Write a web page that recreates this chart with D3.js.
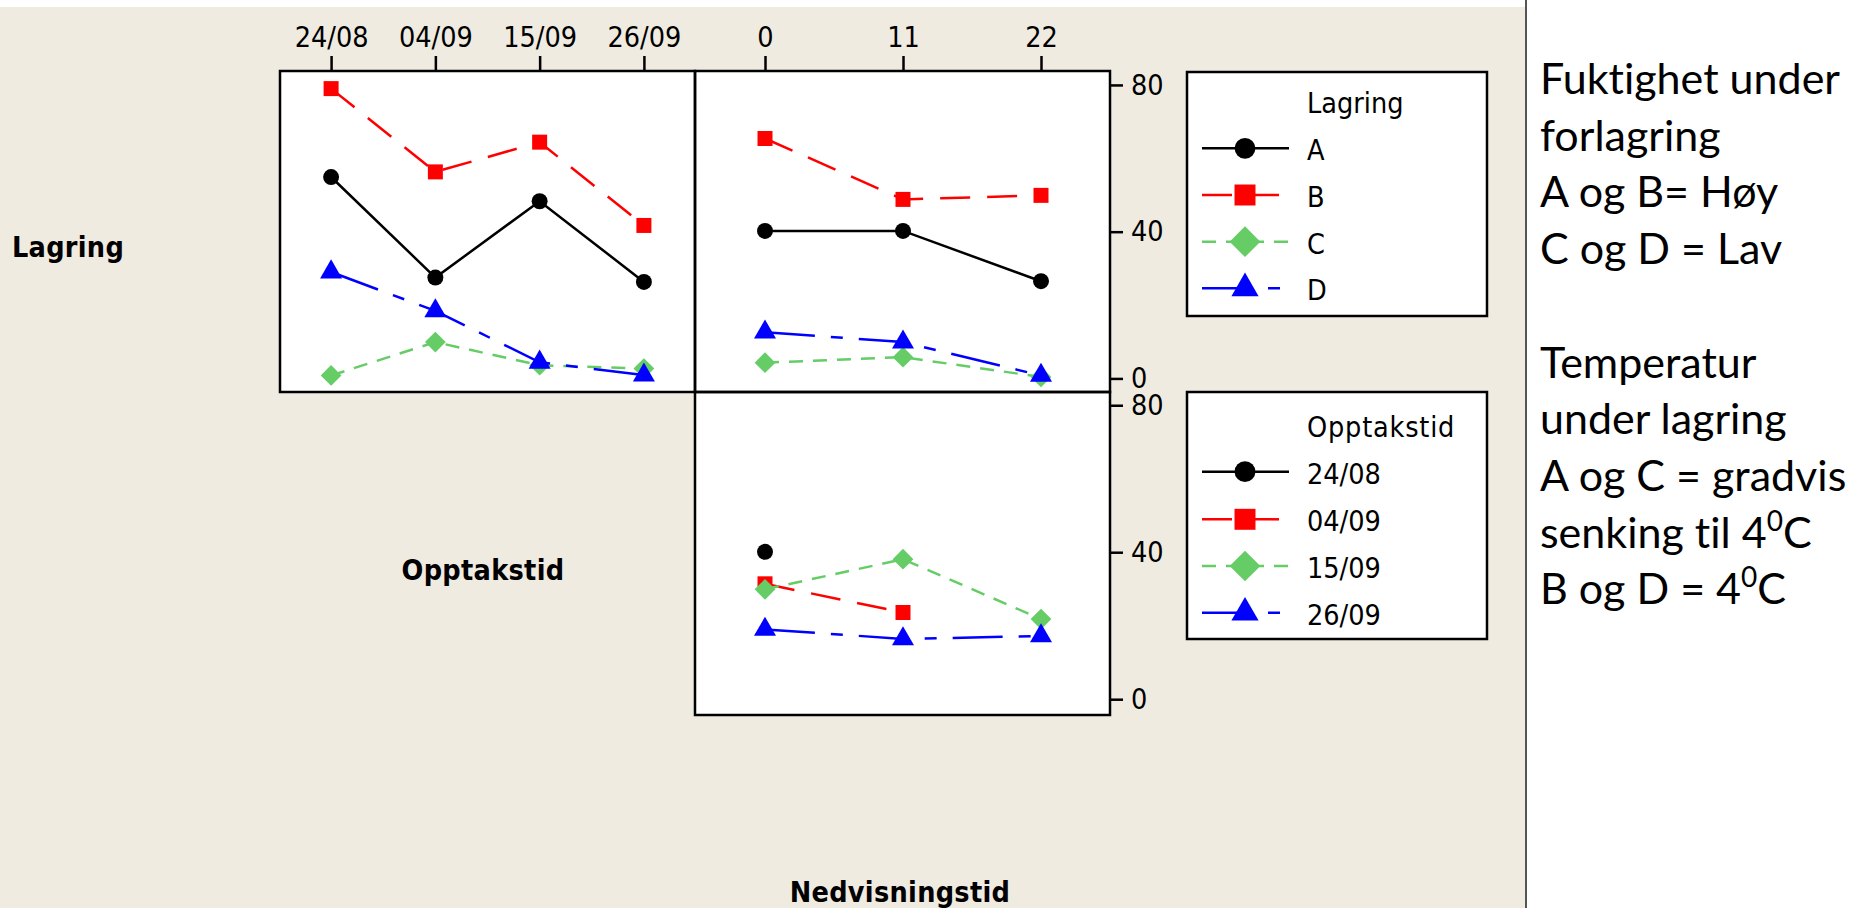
<!DOCTYPE html>
<html><head><meta charset="utf-8">
<script src="https://cdn.jsdelivr.net/npm/d3@7"></script>
<style>html,body{margin:0;padding:0;background:#fff;} svg{display:block} text{font-variant-ligatures:none;}</style>
</head><body>
<svg id="c" width="1864" height="908"></svg>
<script>
// ---------- data ----------
const dates = ["24/08", "04/09", "15/09", "26/09"];      // Opptakstid
const storage = ["A", "B", "C", "D"];                     // Lagring
const displayDays = [0, 11, 22];                          // Nedvisningstid
const yTicks = [0, 40, 80];

// Panel 1: Lagring (series) vs Opptakstid (x)
const lagOpp_A = [54.9, 27.5, 48.3, 26.3];
const lagOpp_B = [79.0, 56.3, 64.4, 41.7];
const lagOpp_C = [0.8, 9.9, 3.6, 2.7];
const lagOpp_D = [29.0, 18.4, 4.4, 0.9];

// Panel 2: Lagring (series) vs Nedvisningstid (x)
const lagNed_A = [40.2, 40.2, 26.5];
const lagNed_B = [65.4, 48.8, 49.9];
const lagNed_C = [4.3, 5.8, 0.4];
const lagNed_D = [12.6, 9.9, 0.8];

// Panel 3: Opptakstid (series) vs Nedvisningstid (x)
const oppNed_2408 = [40.1, null, null];
const oppNed_0409 = [31.4, 23.6, null];
const oppNed_1509 = [29.9, 38.1, 21.8];
const oppNed_2609 = [19.0, 16.4, 17.2];

const noteLines = [
  ["Fuktighet under"], ["forlagring"], ["A og B= Høy"], ["C og D = Lav"], [""],
  ["Temperatur"], ["under lagring"], ["A og C = gradvis"],
  ["senking til 4", "0", "C"], ["B og D = 4", "0", "C"]
];

// ---------- styles ----------
const styles = [
  {color: "#000000", dash: null,            sym: d3.symbolCircle,   size: 200, lsize: 340, rot: 0},
  {color: "#FF0000", dash: "30,17",         sym: d3.symbolSquare,   size: 225, lsize: 440, rot: 0},
  {color: "#66CC66", dash: "14,10",         sym: d3.symbolSquare,   size: 215, lsize: 470, rot: 45},
  {color: "#0000FF", dash: "50,16,12,16",   sym: d3.symbolTriangle, size: 210, lsize: 320, rot: 0}
];

const FONT = "'DejaVu Sans Condensed','DejaVu Sans',sans-serif";
const FS = 28.5;
const svg = d3.select("#c");

// background
svg.append("rect").attr("x", 0).attr("y", 7).attr("width", 1526).attr("height", 901).attr("fill", "#EFEBE1");
svg.append("line").attr("x1", 1526).attr("x2", 1526).attr("y1", 0).attr("y2", 908)
  .attr("stroke", "#555").attr("stroke-width", 2);

// panels
const P1 = {x0: 280, x1: 695, y0: 71, y1: 392};
const P2 = {x0: 695, x1: 1110, y0: 71, y1: 392};
const P3 = {x0: 695, x1: 1110, y0: 392, y1: 715};

const xDate = d3.scalePoint().domain(dates).range([P1.x0, P1.x1]).padding(0.49);
const xDay = d3.scaleLinear().domain([-5.58, 27.5]).range([P2.x0, P2.x1]);
const yTop = d3.scaleLinear().domain([-3.7, 83.8]).range([P1.y1, P1.y0]);
const yBot = d3.scaleLinear().domain([-4.3, 83.6]).range([P3.y1, P3.y0]);

function panelBg(p) {
  svg.append("rect").attr("x", p.x0).attr("y", p.y0).attr("width", p.x1 - p.x0).attr("height", p.y1 - p.y0)
    .attr("fill", "#fff");
}
function panelBorder(p) {
  svg.append("rect").attr("x", p.x0).attr("y", p.y0).attr("width", p.x1 - p.x0).attr("height", p.y1 - p.y0)
    .attr("fill", "none").attr("stroke", "#000").attr("stroke-width", 2.5);
}
[P1, P2, P3].forEach(panelBg);

function drawSeries(vals, xs, xScale, yScale, st) {
  const pts = vals.map((v, i) => ({x: xs[i], v})).filter(d => d.v !== null);
  const line = d3.line().x(d => xScale(d.x)).y(d => yScale(d.v));
  const g = svg.append("g");
  if (pts.length > 1) {
    g.append("path").attr("d", line(pts)).attr("fill", "none").attr("stroke", st.color)
      .attr("stroke-width", 2.5).attr("stroke-dasharray", st.dash);
  }
  g.selectAll("path.m").data(pts).join("path").attr("class", "m")
    .attr("d", d3.symbol().type(st.sym).size(st.size))
    .attr("transform", d => `translate(${xScale(d.x)},${yScale(d.v)}) rotate(${st.rot})`)
    .attr("fill", st.color);
}

// Panel 1
[lagOpp_A, lagOpp_B, lagOpp_C, lagOpp_D].forEach((s, i) => drawSeries(s, dates, xDate, yTop, styles[i]));
// Panel 2
[lagNed_A, lagNed_B, lagNed_C, lagNed_D].forEach((s, i) => drawSeries(s, displayDays, xDay, yTop, styles[i]));
// Panel 3
[oppNed_2408, oppNed_0409, oppNed_1509, oppNed_2609].forEach((s, i) => drawSeries(s, displayDays, xDay, yBot, styles[i]));

[P1, P2, P3].forEach(panelBorder);

// axes
function styleAxis(g) {
  g.select(".domain").remove();
  g.selectAll(".tick line").attr("stroke", "#000").attr("stroke-width", 2.5);
  g.selectAll(".tick text").attr("font-family", FONT).attr("font-size", FS).attr("fill", "#000");
}
svg.append("g").attr("transform", `translate(0,${P1.y0})`)
  .call(d3.axisTop(xDate).tickSize(15).tickPadding(9).tickSizeOuter(0)).call(styleAxis);
svg.append("g").attr("transform", `translate(0,${P2.y0})`)
  .call(d3.axisTop(xDay).tickValues(displayDays).tickSize(15).tickPadding(9).tickSizeOuter(0)).call(styleAxis);
svg.append("g").attr("transform", `translate(${P2.x1},0)`)
  .call(d3.axisRight(yTop).tickValues(yTicks).tickSize(13).tickPadding(8).tickSizeOuter(0)).call(styleAxis);
svg.append("g").attr("transform", `translate(${P3.x1},0)`)
  .call(d3.axisRight(yBot).tickValues(yTicks).tickSize(13).tickPadding(8).tickSizeOuter(0)).call(styleAxis);

// variable labels
function boldLabel(txt, x, y) {
  svg.append("text").attr("x", x).attr("y", y).attr("text-anchor", "middle")
    .attr("font-family", FONT).attr("font-weight", "bold").attr("font-size", 28.5)
    .attr("letter-spacing", 0.3).text(txt);
}
boldLabel("Lagring", 68, 257);
boldLabel("Opptakstid", 483, 580);
boldLabel("Nedvisningstid", 900, 902);

// legends
function legend(box, title, labels, titleY, rowY) {
  svg.append("rect").attr("x", box.x).attr("y", box.y).attr("width", box.w).attr("height", box.h)
    .attr("fill", "#fff").attr("stroke", "#000").attr("stroke-width", 2.5);
  svg.append("text").attr("x", 1307).attr("y", titleY).attr("font-family", FONT).attr("font-size", FS)
    .attr("letter-spacing", title === "Opptakstid" ? 0.8 : 0).text(title);
  labels.forEach((lab, i) => {
    const st = styles[i], y = rowY[i];
    svg.append("line").attr("x1", 1202).attr("x2", 1289).attr("y1", y).attr("y2", y)
      .attr("stroke", st.color).attr("stroke-width", 2.5).attr("stroke-dasharray", st.dash);
    svg.append("path").attr("d", d3.symbol().type(st.sym).size(st.lsize))
      .attr("transform", `translate(1245,${y}) rotate(${st.rot})`).attr("fill", st.color);
    svg.append("text").attr("x", 1307).attr("y", y + 12).attr("font-family", FONT).attr("font-size", FS).text(lab);
  });
}
legend({x: 1187, y: 72, w: 300, h: 244}, "Lagring", storage, 113, [148.3, 195, 241.7, 288.3]);
legend({x: 1187, y: 392, w: 300, h: 247}, "Opptakstid", dates, 436.7, [471.7, 519.3, 566, 612.7]);

// notes on the right
const note = svg.append("text").attr("font-family", "Lato, 'Open Sans', sans-serif").attr("font-size", 43).attr("fill", "#000");
noteLines.forEach((parts, i) => {
  note.append("tspan").attr("x", 1540).attr("y", 94 + i * 56.7).text(parts[0]);
  if (parts.length > 1) {
    note.append("tspan").attr("dy", -17).attr("font-size", 28).text(parts[1]);
    note.append("tspan").attr("dy", 17).text(parts[2]);
  }
});
</script></body></html>
